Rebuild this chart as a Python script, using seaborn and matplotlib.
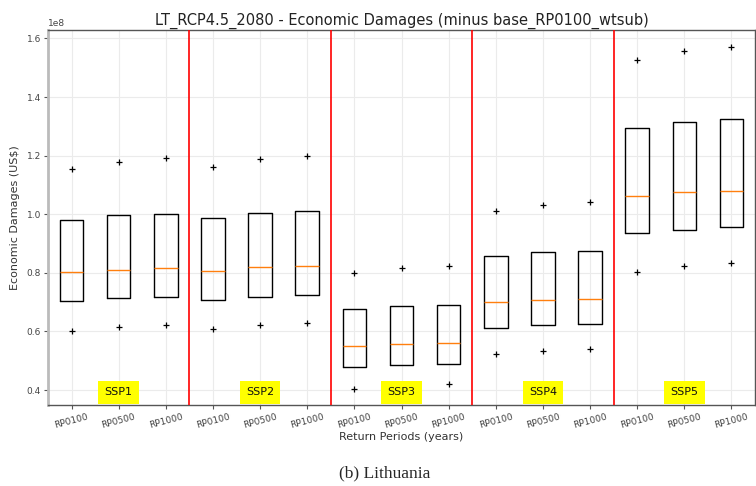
import matplotlib
matplotlib.use("Agg")
import matplotlib.pyplot as plt
import seaborn as sns
import pandas as pd

ssps = ["SSP1", "SSP2", "SSP3", "SSP4", "SSP5"]
rps = ["RP0100", "RP0500", "RP1000"]

# values in 1e8 US$ : lower marker, Q1, median, Q3, upper marker
low = [0.601, 0.614, 0.623, 0.607, 0.621, 0.629, 0.403, 0.411, 0.420,
       0.522, 0.535, 0.541, 0.804, 0.823, 0.834]
q1 = [0.703, 0.713, 0.718, 0.707, 0.718, 0.724, 0.478, 0.486, 0.489,
      0.612, 0.621, 0.625, 0.936, 0.948, 0.957]
med = [0.804, 0.811, 0.815, 0.808, 0.819, 0.823, 0.549, 0.557, 0.559,
       0.699, 0.707, 0.711, 1.064, 1.075, 1.081]
q3 = [0.979, 0.996, 1.002, 0.987, 1.004, 1.010, 0.675, 0.686, 0.692,
      0.856, 0.870, 0.875, 1.294, 1.316, 1.325]
high = [1.154, 1.179, 1.191, 1.163, 1.187, 1.199, 0.798, 0.815, 0.823,
        1.012, 1.031, 1.042, 1.527, 1.557, 1.571]

cases = [f"{s}_{r}" for s in ssps for r in rps]
rows = []
for i, c in enumerate(cases):
    for v in (low[i], q1[i], med[i], q3[i], high[i]):
        rows.append({"case": c, "value": v * 1e8})
df = pd.DataFrame(rows)

sns.set_style("whitegrid", {"grid.color": "#ebebeb", "axes.edgecolor": "#555555"})
plt.rcParams["font.family"] = ["DejaVu Sans"]

fig = plt.figure(figsize=(7.56, 4.86), dpi=100)
ax = fig.add_axes([48 / 756, 1 - 405 / 486, 707 / 756, 375 / 486])

sns.boxplot(data=df, x="case", y="value", order=cases, ax=ax, whis=0,
            width=0.5, fill=False, color="black", showcaps=False,
            linewidth=1.0,
            medianprops={"color": "#ff7f0e", "linewidth": 1.0},
            flierprops={"marker": "+", "markeredgecolor": "black",
                        "markersize": 5, "markeredgewidth": 0.9})

for xline in [2.5, 5.5, 8.5, 11.5]:
    ax.axvline(xline, color="red", linewidth=1.2, zorder=3)

for k, s in enumerate(ssps):
    ax.text(3 * k + 1, 0.392e8, s, ha="center", va="center", fontsize=8,
            color="#111111", zorder=5,
            bbox=dict(facecolor="yellow", edgecolor="none", pad=4.5))

ax.set_xlim(-0.5, 14.5)
ax.set_ylim(0.349e8, 1.629e8)
ax.set_yticks([0.4e8, 0.6e8, 0.8e8, 1.0e8, 1.2e8, 1.4e8, 1.6e8])
ax.set_xticks(range(len(cases)))
ax.set_xticklabels([r for s in ssps for r in rps], rotation=15, fontsize=6.5,
                   color="#444444")
ax.tick_params(axis="y", labelsize=6.5, labelcolor="#444444")
ax.tick_params(axis="both", length=3, width=0.8, color="#555555",
               bottom=True, left=True, pad=2)
ax.yaxis.get_offset_text().set_fontsize(6.5)
ax.yaxis.get_offset_text().set_color("#444444")
ax.grid(True, color="#ebebeb", linewidth=0.8)
ax.set_axisbelow(True)

for side in ["top", "right", "bottom"]:
    ax.spines[side].set_color("#555555")
    ax.spines[side].set_linewidth(1.0)
ax.spines["left"].set_color("#bbbbbb")
ax.spines["left"].set_linewidth(2.0)

ax.set_xlabel("Return Periods (years)", fontsize=8, color="#333333", labelpad=2)
ax.set_ylabel("Economic Damages (US$)", fontsize=8, color="#333333")
ax.yaxis.set_label_coords(-28 / 707, 0.5)
ax.set_title("LT_RCP4.5_2080 - Economic Damages (minus base_RP0100_wtsub)",
             fontsize=10.5, color="#222222", pad=4)

fig.text(385 / 756, 1 - 473 / 486, "(b) Lithuania", ha="center", va="center",
         fontsize=12.5, family=["Liberation Serif", "DejaVu Serif"])

fig.savefig("out.png", dpi=100)
